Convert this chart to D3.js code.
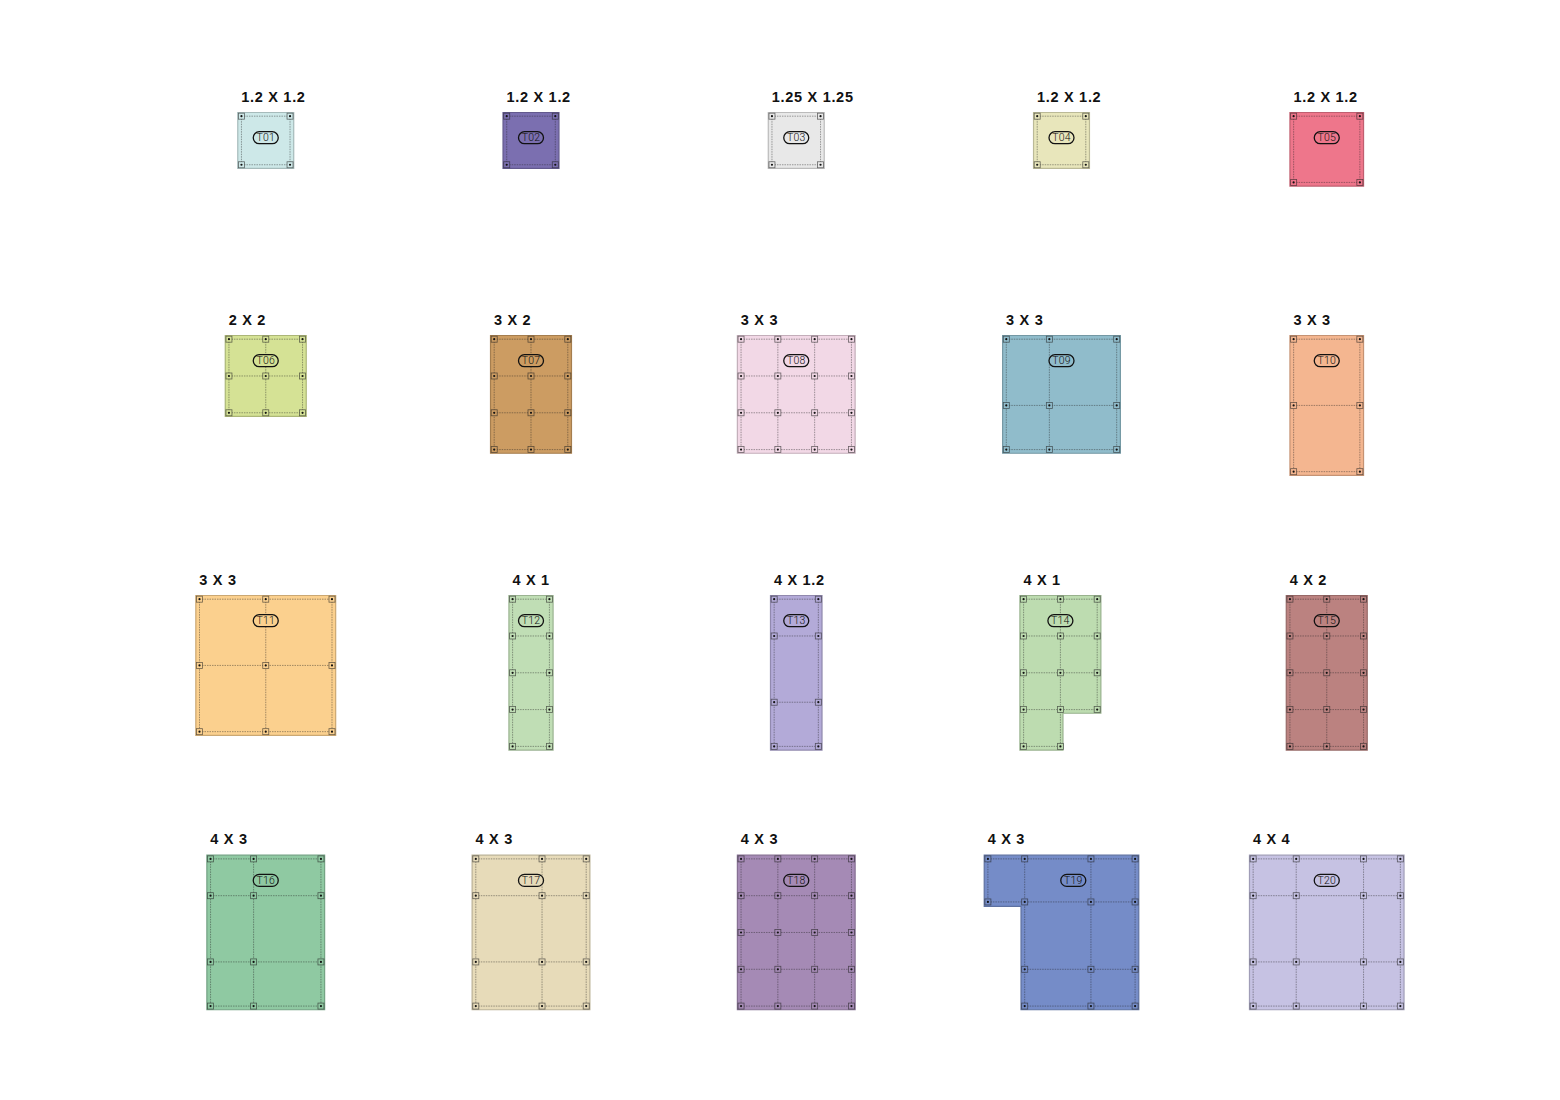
<!DOCTYPE html>
<html>
<head>
<meta charset="utf-8">
<script src="https://cdnjs.cloudflare.com/ajax/libs/d3/7.8.5/d3.min.js"></script>
<style>
html,body{margin:0;background:#fff}
svg{display:block}
</style>
</head>
<body>
<svg id="chart" width="1560" height="1100"></svg>
<script>
// tile data, all sizes in metres from the tile's top left corner
const ids = ["T01","T02","T03","T04","T05","T06","T07","T08","T09","T10","T11","T12","T13","T14","T15","T16","T17","T18","T19","T20"];
const sizes = ["1.2 X 1.2","1.2 X 1.2","1.25 X 1.25","1.2 X 1.2","1.2 X 1.2","2 X 2","3 X 2","3 X 3","3 X 3","3 X 3","3 X 3","4 X 1","4 X 1.2","4 X 1","4 X 2","4 X 3","4 X 3","4 X 3","4 X 3","4 X 4"];
const colors = ["#cde8e8","#7b6fb0","#e8e8e8","#e8e6bb","#ee768b","#d5e295","#cc9c62","#f2d8e6","#90bccb","#f4b690","#fbd08e","#c0deb5","#b3aad8","#bddcb0","#bb8280","#8fc9a2","#e7dbb9","#a58ab5","#758cc8","#c6c2e3"];
const widths = [1.52,1.52,1.52,1.52,2,2.2,2.2,3.2,3.2,2,3.8,1.2,1.4,2.2,2.2,3.2,3.2,3.2,4.2,4.2];
const heights = [1.52,1.52,1.52,1.52,2,2.2,3.2,3.2,3.2,3.8,3.8,4.2,4.2,4.2,4.2,4.2,4.2,4.2,4.2,4.2];
const gridX = [
  [.1,1.42],[.1,1.42],[.1,1.42],[.1,1.42],[.1,1.9],
  [.1,1.1,2.1],[.1,1.1,2.1],[.1,1.1,2.1,3.1],[.1,1.27,3.1],[.1,1.9],
  [.1,1.9,3.7],[.1,1.1],[.1,1.3],[.1,1.1,2.1],[.1,1.1,2.1],
  [.1,1.27,3.1],[.1,1.9,3.1],[.1,1.1,2.1,3.1],[.1,1.1,2.9,4.1],[.1,1.27,3.1,4.1]
];
const gridY = [
  [.1,1.42],[.1,1.42],[.1,1.42],[.1,1.42],[.1,1.9],
  [.1,1.1,2.1],[.1,1.1,2.1,3.1],[.1,1.1,2.1,3.1],[.1,1.9,3.1],[.1,1.9,3.7],
  [.1,1.9,3.7],[.1,1.1,2.1,3.1,4.1],[.1,1.1,2.9,4.1],[.1,1.1,2.1,3.1,4.1],[.1,1.1,2.1,3.1,4.1],
  [.1,1.1,2.9,4.1],[.1,1.1,2.9,4.1],[.1,1.1,2.1,3.1,4.1],[.1,1.27,3.1,4.1],[.1,1.1,2.9,4.1]
];
// the two L shaped tiles: which corner is cut out, and from where
const notches = {T14:{side:"right",x:1.17,y:3.2}, T19:{side:"left",x:1.0,y:1.39}};
const badgeShift = {T19:.32};
const tileShift = {T14:-.03};

const svg = d3.select("#chart");
const col = d3.scalePoint().domain(d3.range(5)).range([265.75,1326.75]);
const rowTop = d3.scaleOrdinal().domain(d3.range(4)).range([112.5,335.5,595.5,855.2]);
const m = d3.scaleLinear().domain([0,1]).range([0,36.8]);

function outline(id,w,h){
  const n = notches[id];
  if(!n) return [[0,0],[w,0],[w,h],[0,h]];
  if(n.side==="right") return [[0,0],[w,0],[w,n.y],[n.x,n.y],[n.x,h],[0,h]];
  return [[0,0],[w,0],[w,h],[n.x,h],[n.x,n.y],[0,n.y]];
}
function inNotch(id,px,py){
  const n = notches[id];
  if(!n) return false;
  if(n.side==="right") return px>n.x && py>n.y;
  return px<n.x && py>n.y;
}

ids.forEach((id,i)=>{
  const w=widths[i], h=heights[i];
  const x0 = col(i%5)-m(w)/2+m(tileShift[id]||0), y0 = rowTop(Math.floor(i/5));
  const g = svg.append("g").attr("transform",`translate(${x0},${y0})`);
  const fill = colors[i];
  const line = d3.line().x(d=>m(d[0])).y(d=>m(d[1])).curve(d3.curveLinearClosed);

  g.append("path").attr("d",line(outline(id,w,h)))
    .attr("fill",fill).attr("stroke",d3.color(fill).darker(.6)).attr("stroke-width",1.2);

  // dotted grid lines, cut short where the tile has a notch
  gridX[i].forEach(gx=>{
    const ys = gridY[i].filter(gy=>!inNotch(id,gx,gy));
    g.append("line").attr("x1",m(gx)).attr("x2",m(gx)).attr("y1",m(d3.min(ys))).attr("y2",m(d3.max(ys)))
      .attr("stroke","#222").attr("stroke-opacity",.6).attr("stroke-width",.7).attr("stroke-dasharray","1.5 1");
  });
  gridY[i].forEach(gy=>{
    const xs = gridX[i].filter(gx=>!inNotch(id,gx,gy));
    g.append("line").attr("y1",m(gy)).attr("y2",m(gy)).attr("x1",m(d3.min(xs))).attr("x2",m(d3.max(xs)))
      .attr("stroke","#222").attr("stroke-opacity",.6).attr("stroke-width",.7).attr("stroke-dasharray","1.5 1");
  });

  // anchor at each crossing
  gridX[i].forEach(gx=>gridY[i].forEach(gy=>{
    if(inNotch(id,gx,gy)) return;
    const a = g.append("g").attr("transform",`translate(${m(gx)},${m(gy)})`);
    a.append("rect").attr("x",-3).attr("y",-3).attr("width",6).attr("height",6)
      .attr("fill",fill).attr("stroke","#222").attr("stroke-opacity",.65).attr("stroke-width",.8);
    a.append("circle").attr("r",1.1).attr("fill","#111");
  }));

  // label above tile
  svg.append("text").attr("x",x0+3.5).attr("y",y0-11)
    .attr("font-family","'Liberation Sans', sans-serif").attr("font-weight",700).attr("font-size",14.5)
    .attr("letter-spacing",.7).attr("fill","#111").text(sizes[i]);

  // T badge, filled so grid lines stop at its edge
  const bx = m(w)/2+m(badgeShift[id]||0), by = 25.2;
  g.append("rect").attr("x",bx-12.5).attr("y",by-6).attr("width",25).attr("height",12).attr("rx",6)
    .attr("fill",fill).attr("stroke","#111").attr("stroke-width",1.3);
  g.append("text").attr("x",bx).attr("y",by+3.6).attr("text-anchor","middle")
    .attr("font-family","Roboto, sans-serif").attr("font-weight",300).attr("font-size",10.5)
    .attr("letter-spacing",.2).attr("fill","#111").text(id);
});
</script>
</body>
</html>
